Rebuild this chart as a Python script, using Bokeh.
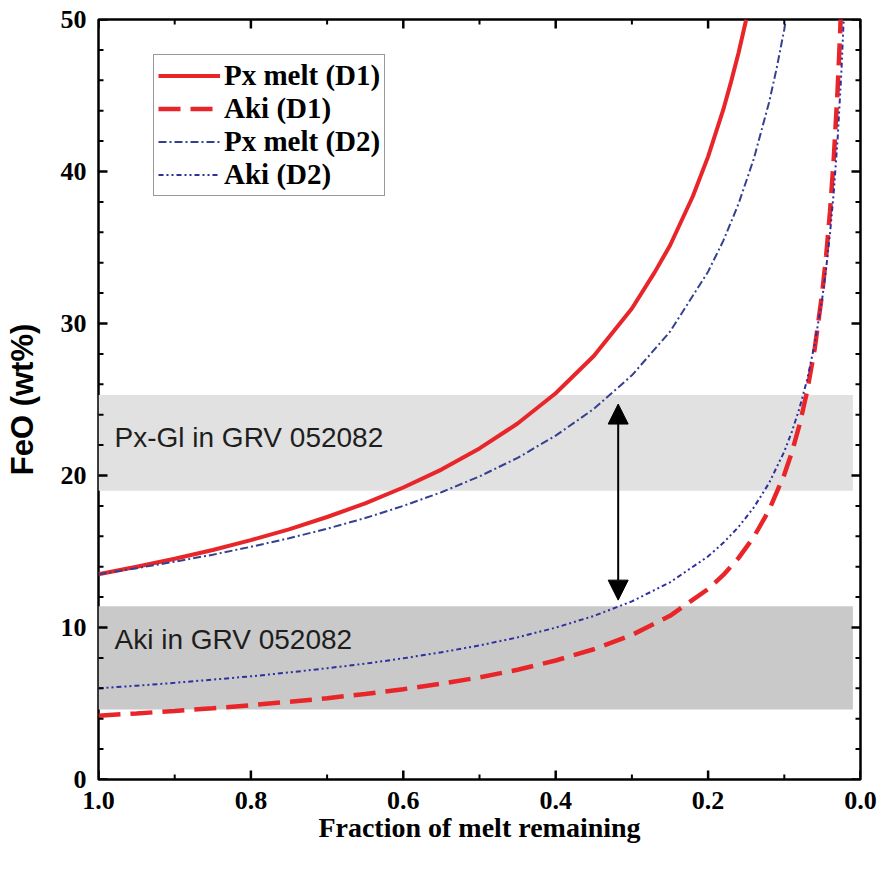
import math
from bokeh.plotting import figure
from bokeh.models import (Range1d, BoxAnnotation, Label, Arrow, NormalHead,
                          Legend, LegendItem, FixedTicker, PrintfTickFormatter)
from bokeh.embed import file_html
from bokeh.resources import INLINE

# ---- data ----
f_px_d1 = [1.0, 0.95, 0.9, 0.85, 0.8, 0.75, 0.7, 0.65, 0.6, 0.55, 0.5, 0.45, 0.4, 0.35,
           0.3, 0.27, 0.25, 0.22, 0.2, 0.18, 0.17, 0.16, 0.15]
px_d1 = [13.5, 14.0, 14.52, 15.10, 15.75, 16.46, 17.27, 18.17, 19.21, 20.39, 21.78, 23.42,
         25.41, 27.86, 30.99, 33.38, 35.13, 38.37, 40.98, 44.08, 45.88, 47.81, 50.0]

f_aki_d1 = [1.0, 0.95, 0.9, 0.85, 0.8, 0.75, 0.7, 0.65, 0.6, 0.55, 0.5, 0.45, 0.4, 0.35,
            0.3, 0.25, 0.2, 0.18, 0.16, 0.14, 0.12, 0.1, 0.09, 0.08, 0.07, 0.06, 0.05,
            0.045, 0.04, 0.035, 0.03, 0.027, 0.026]
aki_d1 = [4.2, 4.35, 4.51, 4.69, 4.89, 5.11, 5.35, 5.63, 5.94, 6.30, 6.72, 7.22, 7.83, 8.57,
          9.51, 10.77, 12.53, 13.46, 14.58, 15.96, 17.72, 20.06, 21.54, 23.34, 25.55, 28.37,
          32.11, 34.49, 37.36, 40.91, 45.42, 48.79, 50.07]

f_px_d2 = [1.0, 0.95, 0.9, 0.85, 0.8, 0.75, 0.7, 0.65, 0.6, 0.55, 0.5, 0.45, 0.4, 0.35,
           0.3, 0.25, 0.2, 0.18, 0.16, 0.14, 0.12, 0.11, 0.1, 0.098]
px_d2 = [13.5, 13.90, 14.33, 14.79, 15.31, 15.87, 16.50, 17.20, 18.00, 18.90, 19.94, 21.16,
         22.62, 24.38, 26.59, 29.46, 33.41, 35.45, 37.88, 40.84, 44.54, 46.80, 49.36, 50.0]

f_aki_d2 = [1.0, 0.95, 0.9, 0.85, 0.8, 0.75, 0.7, 0.65, 0.6, 0.55, 0.5, 0.45, 0.4, 0.35,
            0.3, 0.25, 0.2, 0.18, 0.16, 0.14, 0.12, 0.1, 0.09, 0.08, 0.07, 0.06, 0.05,
            0.045, 0.04, 0.035, 0.03, 0.025, 0.022]
aki_d2 = [6.0, 6.17, 6.36, 6.57, 6.79, 7.04, 7.32, 7.62, 7.97, 8.37, 8.82, 9.35, 9.99, 10.76,
          11.72, 12.97, 14.68, 15.57, 16.62, 17.90, 19.50, 21.58, 22.89, 24.44, 26.32, 28.68,
          31.73, 33.65, 35.93, 38.70, 42.16, 46.65, 50.09]

band_px_gl = (19.0, 25.3)     # Px-Gl in GRV 052082 FeO range
band_aki = (4.6, 11.4)        # Aki in GRV 052082 FeO range
band_f = (1.0, 0.01)
arrow_f = 0.318
arrow_y = (24.7, 11.8)

# tick values
x_major = [1.0, 0.8, 0.6, 0.4, 0.2, 0.0]
x_minor = [0.9, 0.7, 0.5, 0.3, 0.1]
y_major = [0, 10, 20, 30, 40, 50]
y_minor = [2, 4, 6, 8, 12, 14, 16, 18, 22, 24, 26, 28, 32, 34, 36, 38, 42, 44, 46, 48]
x_lo, x_hi = 1.0, 0.0
y_lo, y_hi = 0, 50

SERIF = "Liberation Serif"
SANS = "Liberation Sans"

p = figure(frame_width=762, frame_height=760, output_backend="svg", toolbar_location=None,
           x_range=Range1d(x_lo, x_hi), y_range=Range1d(y_lo, y_hi),
           min_border_left=98, min_border_right=18, min_border_top=19, min_border_bottom=88)
p.xgrid.visible = False
p.ygrid.visible = False
p.outline_line_color = "black"
p.outline_line_width = 2.5
p.background_fill_color = "white"

bottom = p.below[0]
left = p.left[0]

# bands
p.add_layout(BoxAnnotation(left=band_f[0], right=band_f[1], bottom=band_px_gl[0], top=band_px_gl[1],
                           fill_color="#e1e1e1", fill_alpha=1.0, line_color=None, level="underlay"))
p.add_layout(BoxAnnotation(left=band_f[0], right=band_f[1], bottom=band_aki[0], top=band_aki[1],
                           fill_color="#c9c9c9", fill_alpha=1.0, line_color=None, level="underlay"))

r1 = p.line(f_px_d1, px_d1, line_color="#e8262a", line_width=4)
r2 = p.line(f_aki_d1, aki_d1, line_color="#e8262a", line_width=4.5, line_dash="22 10")
r3 = p.line(f_px_d2, px_d2, line_color="#34418f", line_width=2, line_dash="8 3 2 3")
r4 = p.line(f_aki_d2, aki_d2, line_color="#2f2fa0", line_width=2, line_dash="5 3 2 3 2 3")

p.add_layout(Label(x=0.979, y=22.5, text="Px-Gl in GRV 052082", text_font=SANS,
                   text_font_size="28px", text_color="#1e1e1e", text_baseline="middle"))
p.add_layout(Label(x=0.979, y=9.2, text="Aki in GRV 052082", text_font=SANS,
                   text_font_size="28px", text_color="#1e1e1e", text_baseline="middle"))

p.add_layout(Arrow(x_start=arrow_f, y_start=arrow_y[0], x_end=arrow_f, y_end=arrow_y[1],
                   line_color="black", line_width=2,
                   start=NormalHead(size=20, fill_color="black", line_color="black"),
                   end=NormalHead(size=20, fill_color="black", line_color="black")))

# inward ticks on all four sides (dash markers centred on the frame edge; outer half is clipped)
for xs_, sz, lw in ((x_major, 18, 2.5), (x_minor, 10, 2)):
    for yy in (y_lo, y_hi):
        p.scatter(xs_, [yy] * len(xs_), marker="dash", size=sz, angle=math.pi / 2,
                  line_color="black", line_width=lw)
for ys_, sz, lw in ((y_major, 18, 2.5), (y_minor, 10, 2)):
    for xx in (x_lo, x_hi):
        p.scatter([xx] * len(ys_), ys_, marker="dash", size=sz,
                  line_color="black", line_width=lw)

for ax in (bottom, left):
    ax.axis_line_color = None
    ax.major_tick_line_color = None
    ax.minor_tick_line_color = None
    ax.major_tick_out = 0
    ax.major_tick_in = 0
    ax.major_label_text_font = SERIF
    ax.major_label_text_font_style = "bold"
    ax.major_label_text_font_size = "26px"
    ax.major_label_text_color = "black"
    ax.axis_label_text_color = "black"

bottom.ticker = FixedTicker(ticks=x_major)
left.ticker = FixedTicker(ticks=y_major)
bottom.formatter = PrintfTickFormatter(format="%.1f")
bottom.major_label_standoff = 12
left.major_label_standoff = 12

bottom.axis_label = "Fraction of melt remaining"
bottom.axis_label_text_font = SERIF
bottom.axis_label_text_font_style = "bold"
bottom.axis_label_text_font_size = "28px"
bottom.axis_label_standoff = 0
left.axis_label = "FeO (wt%)"
left.axis_label_text_font = SANS
left.axis_label_text_font_style = "bold"
left.axis_label_text_font_size = "31px"
left.axis_label_standoff = 18

legend = Legend(items=[LegendItem(label="Px melt (D1)", renderers=[r1]),
                       LegendItem(label="Aki (D1)", renderers=[r2]),
                       LegendItem(label="Px melt (D2)", renderers=[r3]),
                       LegendItem(label="Aki (D2)", renderers=[r4])],
                location=(55, 583), label_text_font=SERIF, label_text_font_style="bold",
                label_text_font_size="29px", label_text_color="black",
                glyph_width=62, glyph_height=33, label_height=33,
                spacing=0, padding=4, margin=0, border_line_color="#333333", border_line_width=1,
                label_standoff=4, background_fill_alpha=1.0)
p.add_layout(legend, "center")

open("out.html", "w").write(file_html(p, INLINE))
